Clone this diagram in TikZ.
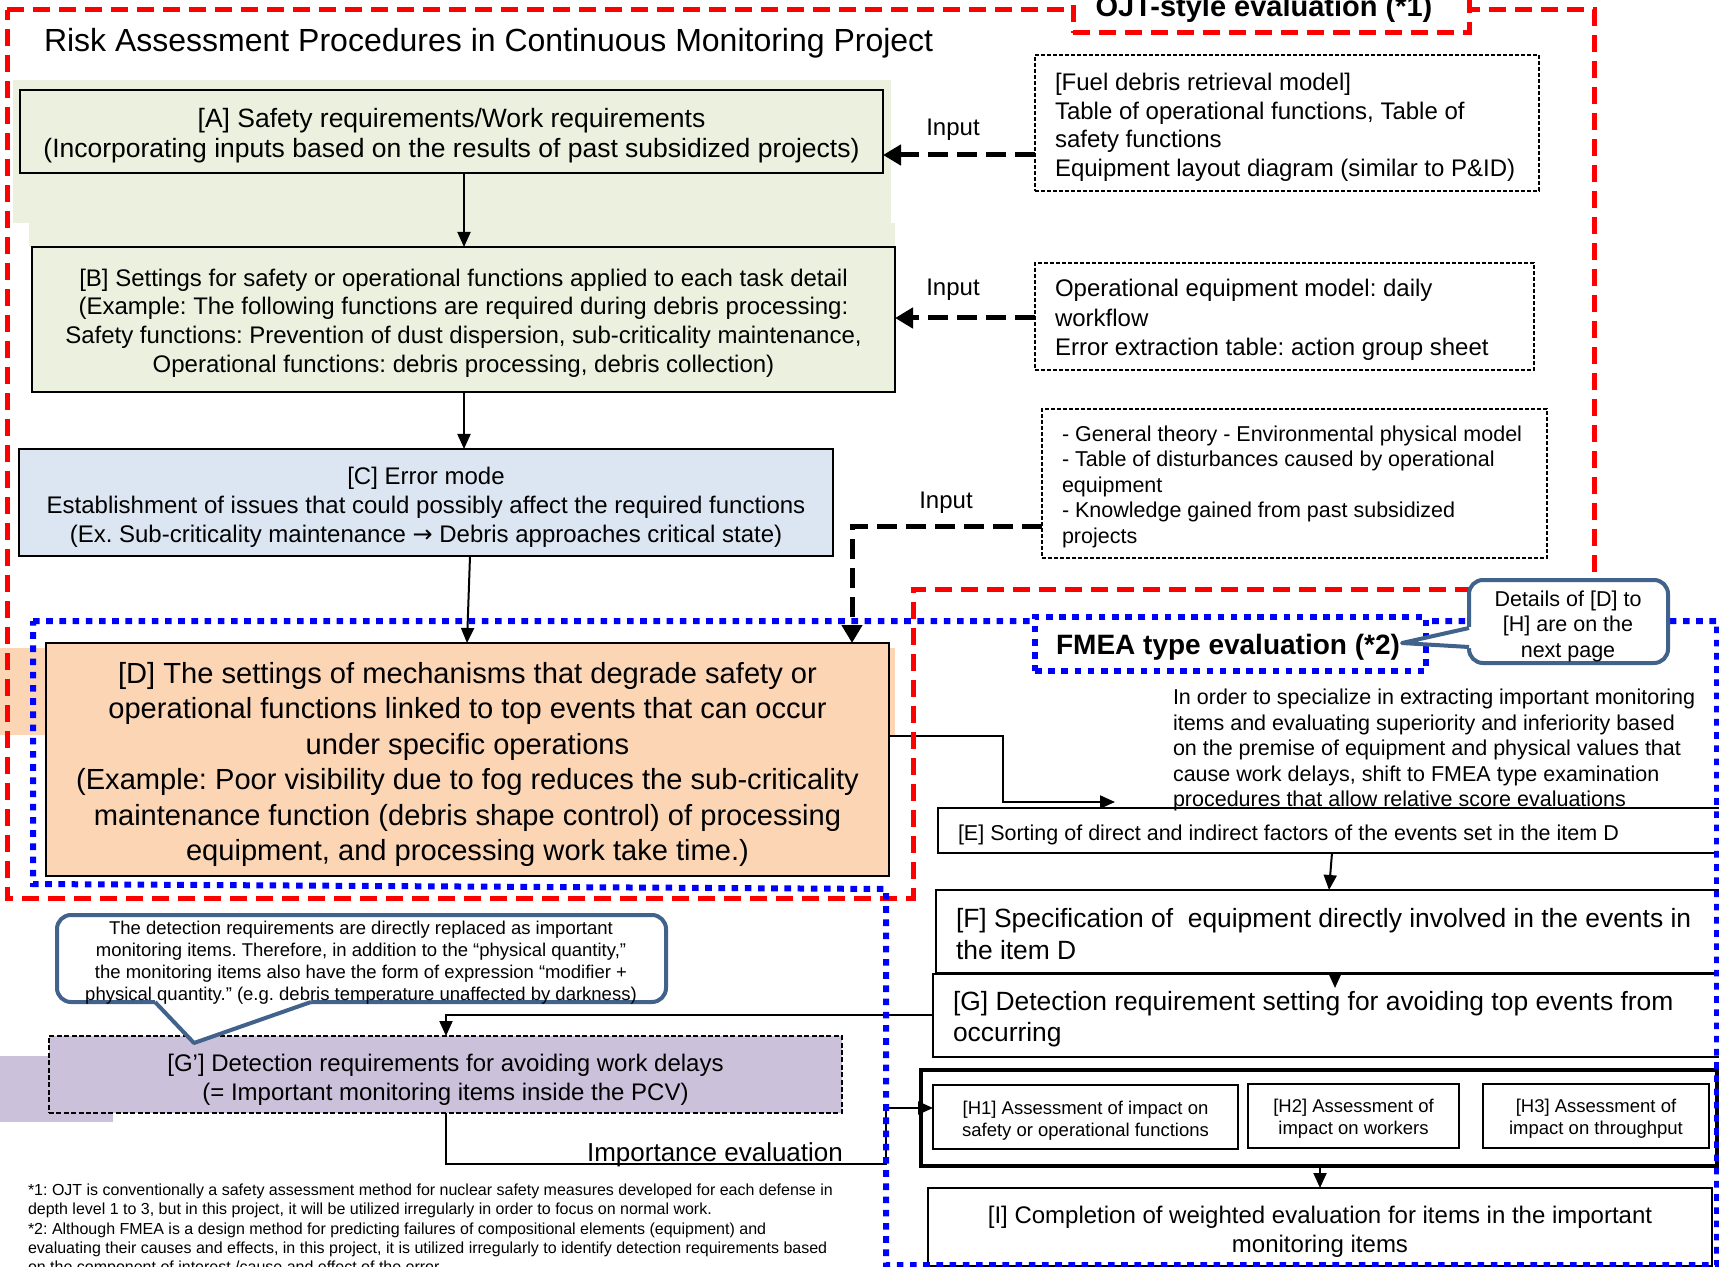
\documentclass[tikz,border=0pt]{standalone}
\usepackage{fontspec}
\setmainfont{Liberation Sans}
\newfontfamily\djv{DejaVu Sans}
\usetikzlibrary{arrows.meta,fit}
\definecolor{gA}{HTML}{EBF1DE}
\definecolor{bC}{HTML}{DCE6F2}
\definecolor{oD}{HTML}{FCD5B5}
\definecolor{pG}{HTML}{CCC1DA}
\definecolor{rF}{HTML}{FF0000}
\definecolor{bF}{HTML}{0000FF}
\definecolor{cl}{HTML}{41628A}
\newcommand{\fsz}[2]{\fontsize{#1}{#2}\selectfont}
\frenchspacing
\begin{document}
\frenchspacing
\begin{tikzpicture}[x=0.5pt,y=-0.5pt,
  bx/.style={draw, inner sep=0pt, outer sep=0pt},
  txt/.style={inner sep=0pt, outer sep=0pt},
  ctxt/.style={txt, align=center},
  inbox/.style={bx, line width=0.75pt, dash pattern=on 2pt off 1pt},
  arr/.style={line width=1pt, -{Triangle[length=7.5pt,width=6.5pt]}},
  inarr/.style={line width=2.5pt, dash pattern=on 10pt off 4.5pt, -{Triangle[length=9pt,width=10pt]}},
  redfr/.style={draw=rF, line width=2.5pt, dash pattern=on 8.5pt off 4.5pt},
  bluefr/.style={draw=bF, line width=3pt, dash pattern=on 3.3pt off 3.3pt},
  clline/.style={draw=cl, line width=2pt, line join=round},
]
\useasboundingbox (0,0) rectangle (1719,1267);

% background tints
\fill[gA] (13,80) rectangle (891,223);
\fill[gA] (29,223) rectangle (895,247);
\fill[oD] (0,648) rectangle (895,735);
\fill[pG] (0,1056) rectangle (113,1122);

% main boxes
\node[bx, fill=gA, line width=1pt, fit={(20,90) (883,173)}] (A) {};
\node[ctxt, font={\fsz{13.25}{15}}] (At) at (451.5,136)
  {[A] Safety requirements/Work requirements\\(Incorporating inputs based on the results of past subsidized projects)};
\node[bx, fill=gA, line width=1pt, fit={(32,247) (895,392)}] (B) {};
\node[ctxt, font={\fsz{12}{14.4}}] (Bt) at (463.5,323)
  {[B] Settings for safety or operational functions applied to each task detail\\(Example: The following functions are required during debris processing:\\Safety functions: Prevention of dust dispersion, sub-criticality maintenance,\\Operational functions: debris processing, debris collection)};
\node[bx, fill=bC, line width=1pt, fit={(19,449) (833,556)}] (C) {};
\node[ctxt, font={\fsz{12}{14.4}}] (Ct) at (426,507)
  {[C] Error mode\\Establishment of issues that could possibly affect the required functions\\(Ex. Sub-criticality maintenance {\djv →} Debris approaches critical state)};
\node[bx, fill=oD, line width=1pt, fit={(46,643) (889,876)}] (D) {};
\node[ctxt, font={\fsz{14.55}{17.7}}] (Dt) at (467.5,764.5)
  {[D] The settings of mechanisms that degrade safety or\\operational functions linked to top events that can occur\\under specific operations\\(Example: Poor visibility due to fog reduces the sub-criticality\\maintenance function (debris shape control) of processing\\equipment, and processing work take time.)};

% input boxes
\node[inbox, fit={(1035,55) (1539,191)}] (in1) {};
\node[txt, anchor=west, align=left, font={\fsz{12}{14.25}}] (in1t) at (1055,127.5)
  {[Fuel debris retrieval model]\\Table of operational functions, Table of\\safety functions\\Equipment layout diagram (similar to P\&ID)};
\node[inbox, fit={(1035,263) (1534,370)}] (in2) {};
\node[txt, anchor=west, align=left, font={\fsz{12}{14.75}}] (in2t) at (1055,320)
  {Operational equipment model: daily\\workflow\\Error extraction table: action group sheet};
\node[inbox, fit={(1042,409) (1547,558)}] (in3) {};
\node[txt, anchor=west, align=left, font={\fsz{10.75}{12.75}}] (in3t) at (1062,486.5)
  {- General theory - Environmental physical model\\- Table of disturbances caused by operational\\equipment\\- Knowledge gained from past subsidized\\projects};

% FMEA side boxes
\node[bx, fill=white, line width=1.2pt, fit={(938,808) (1760,853)}] (E) {};
\node[bx, fill=white, line width=1.2pt, fit={(936,890) (1760,973)}] (F) {};
\node[bx, fill=white, line width=1.2pt, fit={(933,974) (1760,1057)}] (G) {};
\node[bx, fill=white, line width=2.2pt, fit={(921,1070) (1717,1166)}] (H) {};
\node[bx, line width=1.3pt, fit={(933,1085) (1238,1149)}] (H1) {};
\node[bx, line width=1.3pt, fit={(1248,1084) (1459,1148)}] (H2) {};
\node[bx, line width=1.3pt, fit={(1483,1084) (1709,1148)}] (H3) {};
\node[ctxt, font={\fsz{9.25}{11}}] (H1t) at (1085.5,1121) {[H1] Assessment of impact on\\safety or operational functions};
\node[ctxt, font={\fsz{9.25}{11}}] (H2t) at (1353.5,1119) {[H2] Assessment of\\impact on workers};
\node[ctxt, font={\fsz{9.25}{11}}] (H3t) at (1596,1119) {[H3] Assessment of\\impact on throughput};
\node[bx, fill=white, line width=1.2pt, fit={(928,1188) (1712,1266)}] (I) {};
\node[ctxt, font={\fsz{12}{14.5}}] (It) at (1320,1231.5)
  {[I] Completion of weighted evaluation for items in the important\\monitoring items};
\node[bx, fill=pG, line width=0.8pt, dash pattern=on 2.5pt off 1.2pt, fit={(49,1036) (842,1113)}] (Gp) {};
\node[ctxt, font={\fsz{12}{14.5}}] (Gpt) at (445.5,1079.5)
  {[G'] Detection requirements for avoiding work delays\\(= Important monitoring items inside the PCV)};

\node[txt, anchor=west, font={\fsz{10.75}{12.75}}] (Et) at (958,835)
  {[E] Sorting of direct and indirect factors of the events set in the item D};
\node[txt, anchor=west, align=left, font={\fsz{13.2}{16}}] (Ft) at (956,934.5)
  {[F] Specification of\ \ equipment directly involved in the events in\\the item D};
\node[txt, anchor=west, align=left, font={\fsz{13.2}{15.5}}] (Gt) at (953,1019)
  {[G] Detection requirement setting for avoiding top events from\\occurring};

% coordinates for connectors
\coordinate (ab) at (464,0);
\coordinate (cd1) at (470,0);
\coordinate (cd2) at (467,0);
\coordinate (y155) at (0,155);
\coordinate (y318) at (0,318);
\coordinate (y526) at (0,526);
\coordinate (k3) at (852,526);
\coordinate (de1) at (1003,736);
\coordinate (de2) at (1003,802);
\coordinate (de3) at (1115,802);
\coordinate (ef1) at (1332,0);
\coordinate (ef2) at (1329,0);
\coordinate (fg) at (1335,0);
\coordinate (y1015) at (0,1015);
\coordinate (gg) at (446,1015);
\coordinate (ie1) at (446,1164);
\coordinate (ie2) at (886,1164);
\coordinate (ie3) at (886,1108);
\coordinate (hi) at (1320,0);

% connectors
\draw[arr] (A.south -| ab) -- (B.north -| ab);
\draw[arr] (B.south -| ab) -- (C.north -| ab);
\draw[arr] (C.south -| cd1) -- (D.north -| cd2);
\draw[inarr] (in1.west |- y155) -- (A.east |- y155);
\draw[inarr] (in2.west |- y318) -- (B.east |- y318);
\draw[inarr] (in3.west |- y526) -- (k3) -- (D.north -| k3);
\draw[arr] (D.east |- de1) -- (de1) -- (de2) -- (de3);
\draw[arr] (E.south -| ef1) -- (F.north -| ef2);
\draw[arr] (F.south -| fg) -- ++(0,15);
\draw[arr] (G.west |- y1015) -- (gg) -- (Gp.north -| gg);
\draw[arr] (Gp.south -| gg) -- (ie1) -- (ie2) -- (ie3) -- (H1.west |- ie3);
\draw[arr] (H.south -| hi) -- (I.north -| hi);

% frames
\draw[redfr] (7,10) -- (1594,10) -- (1594,589) -- (913,589) -- (913,898) -- (7,898) -- cycle;
\draw[bluefr] (33,621) -- (1717,621) -- (1717,1265) -- (886,1265) -- (886,889) -- (33,884) -- cycle;

% frame labels
\node[bx, fill=white, redfr, fit={(1073,-40) (1469,33)}] (ojt) {};
\node[txt, anchor=base, font={\bfseries\fsz{14.5}{17}}] (ojtt) at (1264,17) {OJT-style evaluation (*1)};
\node[bx, fill=white, bluefr, fit={(1035,617) (1426,671)}] (fmea) {};
\node[txt, font={\bfseries\fsz{14}{17}}] (fmeat) at (1228,647) {FMEA type evaluation (*2)};

% callout: details
\node[bx, fill=white, clline, rounded corners=7pt, fit={(1469,580) (1668,663)}] (det) {};
\fill[white] (1402,643) -- (1469,627) -- (1474,627) -- (1474,648) -- (1469,648) -- cycle;
\draw[clline] (det.west |- 0,628) -- (1402,643) -- (det.west |- 0,647);
\node[ctxt, font={\fsz{10.75}{12.75}}] (dett) at (1568,626)
  {Details of [D] to\\{[H]} are on the\\next page};

% callout: detection requirements
\node[bx, fill=white, clline, rounded corners=7pt, fit={(57,915) (666,1002)}] (cal) {};
\fill[white] (155,998) -- (311,998) -- (311,1002) -- (194,1043) -- (155,1002) -- cycle;
\draw[clline] (155,1002) -- (194,1043) -- (311,1002);
\node[ctxt, font={\fsz{9.25}{11}}] (calt) at (361,963)
  {The detection requirements are directly replaced as important\\monitoring items. Therefore, in addition to the “physical quantity,”\\the monitoring items also have the form of expression “modifier +\\physical quantity.” (e.g. debris temperature unaffected by darkness)};

% free texts
\node[txt, anchor=base west, font={\fsz{16}{19}}] (title) at (44,52)
  {Risk Assessment Procedures in Continuous Monitoring Project};
\node[txt, font={\fsz{12}{14}}] (lab1) at (953,130) {Input};
\node[txt, font={\fsz{12}{14}}] (lab2) at (953,290) {Input};
\node[txt, font={\fsz{12}{14}}] (lab3) at (946,503) {Input};
\node[txt, anchor=west, align=left, font={\fsz{10.75}{12.75}}] (fdesc) at (1173,750)
  {In order to specialize in extracting important monitoring\\items and evaluating superiority and inferiority based\\on the premise of equipment and physical values that\\cause work delays, shift to FMEA type examination\\procedures that allow relative score evaluations};
\node[txt, font={\fsz{13}{15}}] (imp) at (715,1155) {Importance evaluation};
\node[txt, anchor=west, align=left, font={\fsz{8}{9.6}}] (notes) at (28,1230)
  {*1: OJT is conventionally a safety assessment method for nuclear safety measures developed for each defense in\\depth level 1 to 3, but in this project, it will be utilized irregularly in order to focus on normal work.\\{*}2: Although FMEA is a design method for predicting failures of compositional elements (equipment) and\\evaluating their causes and effects, in this project, it is utilized irregularly to identify detection requirements based\\on the component of interest /cause and effect of the error};
\end{tikzpicture}
\end{document}
